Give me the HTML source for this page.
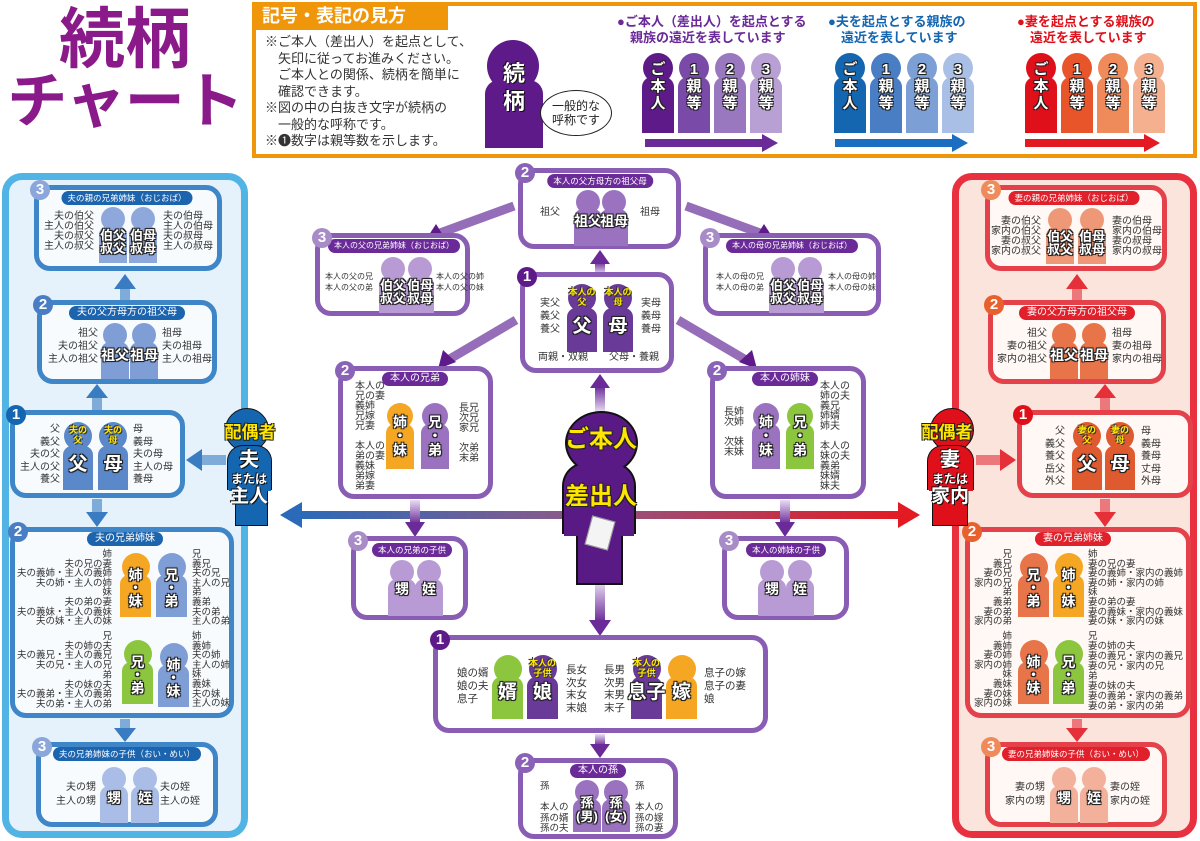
<!DOCTYPE html>
<html><head><meta charset="utf-8">
<style>
*{margin:0;padding:0;box-sizing:border-box}
body{width:1200px;height:841px;position:relative;background:#fff;font-family:"Liberation Sans","Noto Sans CJK JP",sans-serif;overflow:hidden}
div{position:absolute}
.bx{border:5px solid;border-radius:16px;background:#fff}
.pu{border-color:#8a5db5}
.bl{border-color:#3f86c8;background:#f8fbfe}
.rd{border-color:#e5414b;background:#fff8f5}
.tag{height:14px;line-height:14px;border-radius:7px;color:#fff;font-size:10px;padding:0 8px;transform:translateX(-50%);white-space:nowrap}
.sm{font-size:8.5px;padding:0 6px}
.tp{background:#6a2a98}.tb{background:#1d64ae}.tr{background:#e0202a}
.n{width:20px;height:20px;border-radius:50%;color:#fff;font:bold 15px/20px "Liberation Sans",sans-serif;text-align:center}
.np1{background:#5e1a88}.np2{background:#8a62b8}.np3{background:#a88cc8}
.nb1{background:#1566b0}.nb2{background:#4a7ec4}.nb3{background:#8aa6da}
.nr1{background:#e0101a}.nr2{background:#e8602e}.nr3{background:#ef8a5a}
.t{font-size:10px;line-height:12px;color:#333;white-space:nowrap}
.r{text-align:right}
.f{width:28px;height:56px}
.f i{position:absolute;left:2px;top:0;width:24px;height:24px;border-radius:50%;background:var(--c)}
.f b{position:absolute;left:0;right:0;top:19px;bottom:0;background:var(--c);border-radius:9px 9px 0 0}
.f u{position:absolute;left:-8px;right:-8px;top:22px;text-align:center;color:#fff;font-weight:bold;font-size:14px;line-height:15px;text-decoration:none;text-shadow:1px 1px 0 #222,-1px -1px 0 #222,1px -1px 0 #222,-1px 1px 0 #222,0 0 2px #000}
.f em{position:absolute;left:-6px;right:-6px;top:3px;text-align:center;color:#ffe600;font-style:normal;font-weight:bold;font-size:9px;line-height:10px;text-shadow:1px 1px 0 #333,-1px -1px 0 #333}
.s13 u{font-size:13px;line-height:13px}
.big u{font-size:19px;line-height:20px}
.lf{width:32px;height:80px}
.lf i{position:absolute;left:1px;top:0;width:30px;height:30px;border-radius:50%;background:var(--c)}
.lf b{position:absolute;left:0;right:0;top:24px;bottom:0;background:var(--c);border-radius:10px 10px 0 0}
.lf u{position:absolute;left:0;right:0;top:8px;text-align:center;color:#fff;font-weight:bold;font-size:15px;line-height:17px;text-decoration:none;text-shadow:1px 1px 0 #222,-1px -1px 0 #222,1px -1px 0 #222,-1px 1px 0 #222}
.yl{color:#ffe600;font-weight:bold;text-shadow:1px 1px 0 #222,-1px -1px 0 #222,1px -1px 0 #222,-1px 1px 0 #222;white-space:nowrap;text-align:center}
.wl{color:#fff;font-weight:bold;text-shadow:1px 1px 0 #111,-1px -1px 0 #111;white-space:nowrap;text-align:center}
</style></head><body>

<!-- Title -->
<div style="left:30px;top:2px;width:190px;text-align:center;font-size:66px;line-height:74px;font-weight:bold;color:#8a1a8a">続柄</div>
<div style="left:0;top:68px;width:250px;text-align:center;font-size:60px;line-height:68px;font-weight:bold;color:#8a1a8a;letter-spacing:-1px">チャート</div>

<!-- Legend -->
<div style="left:252px;top:2px;width:945px;height:156px;border:4px solid #f0960a;background:#fff"></div>
<div style="left:252px;top:2px;width:196px;height:28px;background:#f0960a;color:#fff;font-weight:bold;font-size:18px;line-height:28px;padding-left:10px">記号・表記の見方</div>
<div class="t" style="left:265px;top:34px;font-size:13px;line-height:16.5px">※ご本人（差出人）を起点として、<br>　矢印に従ってお進みください。<br>　ご本人との関係、続柄を簡単に<br>　確認できます。<br>※図の中の白抜き文字が続柄の<br>　一般的な呼称です。<br>※❶数字は親等数を示します。</div>
<div style="left:487px;top:40px;width:52px;height:52px;border-radius:50%;background:#5e1a88"></div>
<div style="left:485px;top:80px;width:58px;height:68px;background:#5e1a88;border-radius:14px 14px 0 0"></div>
<div class="wl" style="left:490px;top:60px;width:48px;font-size:22px;line-height:28px">続<br>柄</div>
<div style="left:540px;top:90px;width:72px;height:46px;border:1.5px solid #222;border-radius:50%;background:#fff"></div>
<div class="t" style="left:546px;top:99px;width:60px;text-align:center;font-size:12px;line-height:14px;color:#222">一般的な<br>呼称です</div>

<div class="t" style="left:617px;top:14px;font-size:13px;line-height:16px;color:#6a2a98;font-weight:bold">●ご本人（差出人）を起点とする<br>　親族の遠近を表しています</div>
<div class="t" style="left:828px;top:14px;font-size:13px;line-height:16px;color:#1566b0;font-weight:bold">●夫を起点とする親族の<br>　遠近を表しています</div>
<div class="t" style="left:1017px;top:14px;font-size:13px;line-height:16px;color:#e0101a;font-weight:bold">●妻を起点とする親族の<br>　遠近を表しています</div>

<div class="lf" style="left:642px;top:53px;--c:#5e1a88"><i></i><b></b><u>ご<br>本<br>人</u></div>
<div class="lf" style="left:678px;top:53px;--c:#7a4aa8"><i></i><b></b><u>1<br>親<br>等</u></div>
<div class="lf" style="left:714px;top:53px;--c:#9a78c0"><i></i><b></b><u>2<br>親<br>等</u></div>
<div class="lf" style="left:750px;top:53px;--c:#b9a0d4"><i></i><b></b><u>3<br>親<br>等</u></div>
<div class="lf" style="left:834px;top:53px;--c:#1566b0"><i></i><b></b><u>ご<br>本<br>人</u></div>
<div class="lf" style="left:870px;top:53px;--c:#4a7ec4"><i></i><b></b><u>1<br>親<br>等</u></div>
<div class="lf" style="left:906px;top:53px;--c:#7c9fd6"><i></i><b></b><u>2<br>親<br>等</u></div>
<div class="lf" style="left:942px;top:53px;--c:#a9bfe6"><i></i><b></b><u>3<br>親<br>等</u></div>
<div class="lf" style="left:1025px;top:53px;--c:#e0101a"><i></i><b></b><u>ご<br>本<br>人</u></div>
<div class="lf" style="left:1061px;top:53px;--c:#e8552a"><i></i><b></b><u>1<br>親<br>等</u></div>
<div class="lf" style="left:1097px;top:53px;--c:#ef8a5a"><i></i><b></b><u>2<br>親<br>等</u></div>
<div class="lf" style="left:1133px;top:53px;--c:#f4b08f"><i></i><b></b><u>3<br>親<br>等</u></div>

<!-- Panels -->
<div style="left:2px;top:173px;width:246px;height:665px;border:7px solid #52b4e4;border-radius:20px;background:#e6f2fb"></div>
<div style="left:952px;top:173px;width:245px;height:665px;border:7px solid #e8303f;border-radius:20px;background:#fbe4dc"></div>

<!-- Arrows / lines -->
<svg style="position:absolute;left:0;top:0" width="1200" height="841">
<defs>
<linearGradient id="hg" x1="0" x2="1" y1="0" y2="0"><stop offset="0" stop-color="#2a6ab8"/><stop offset="0.45" stop-color="#8a5a8a"/><stop offset="1" stop-color="#e41a22"/></linearGradient>
<linearGradient id="pv" x1="0" x2="0" y1="0" y2="1"><stop offset="0" stop-color="#e8dcf2"/><stop offset="1" stop-color="#6a2a98"/></linearGradient>
<linearGradient id="pvu" x1="0" x2="0" y1="1" y2="0"><stop offset="0" stop-color="#e8dcf2"/><stop offset="1" stop-color="#6a2a98"/></linearGradient>
</defs>
<rect x="296" y="511" width="610" height="8" fill="url(#hg)"/>
<polygon points="280,515 302,502 302,528" fill="#2a6ab8"/>
<polygon points="920,515 898,502 898,528" fill="#e41a22"/>
<g fill="#6a2a98" stroke="none">
<rect x="595" y="386" width="10" height="26" fill="url(#pvu)"/><polygon points="600,374 590,388 610,388"/>
<rect x="595" y="262" width="10" height="12" fill="url(#pvu)"/><polygon points="600,250 590,264 610,264"/>
<rect x="595" y="582" width="10" height="40" fill="url(#pv)"/><polygon points="600,636 589,620 611,620"/>
<rect x="595" y="734" width="10" height="12" fill="url(#pv)"/><polygon points="600,758 590,744 610,744"/>
<rect x="410" y="500" width="10" height="24" fill="url(#pv)"/><polygon points="415,537 405,522 425,522"/>
<rect x="780" y="500" width="10" height="24" fill="url(#pv)"/><polygon points="785,537 775,522 795,522"/>
</g>
<g stroke="#7a48a8" stroke-width="9" stroke-linecap="butt">
<line x1="514" y1="206" x2="440" y2="233" stroke-opacity=".8"/>
<line x1="686" y1="206" x2="760" y2="233" stroke-opacity=".8"/>
<line x1="516" y1="320" x2="448" y2="360" stroke-opacity=".8"/>
<line x1="678" y1="320" x2="746" y2="360" stroke-opacity=".8"/>
</g>
<g fill="#5e1a88">
<polygon points="425,241 436,224 446,240"/>
<polygon points="775,241 764,224 754,240"/>
<polygon points="438,369 443,350 456,362"/>
<polygon points="757,369 752,350 739,362"/>
</g>
<g fill="#3a7cc2">
<rect x="200" y="455" width="26" height="10" fill-opacity=".6"/><polygon points="186,460 202,449 202,471"/>
<rect x="92" y="396" width="10" height="14" fill-opacity=".6"/><polygon points="97,384 86,398 108,398"/>
<rect x="120" y="288" width="10" height="12" fill-opacity=".6"/><polygon points="125,274 114,289 136,289"/>
<rect x="92" y="499" width="10" height="14" fill-opacity=".6"/><polygon points="97,527 86,512 108,512"/>
<rect x="120" y="719" width="10" height="10" fill-opacity=".6"/><polygon points="125,742 114,728 136,728"/>
</g>
<g fill="#e5303a">
<rect x="976" y="455" width="26" height="10" fill-opacity=".6"/><polygon points="1016,460 1000,449 1000,471"/>
<rect x="1100" y="396" width="10" height="14" fill-opacity=".6"/><polygon points="1105,384 1094,398 1116,398"/>
<rect x="1072" y="288" width="10" height="12" fill-opacity=".6"/><polygon points="1077,274 1066,289 1088,289"/>
<rect x="1100" y="499" width="10" height="14" fill-opacity=".6"/><polygon points="1105,527 1094,512 1116,512"/>
<rect x="1072" y="719" width="10" height="10" fill-opacity=".6"/><polygon points="1077,742 1066,728 1088,728"/>
</g>
<rect x="645" y="139" width="118" height="8" fill="#6a2a98"/><polygon points="778,143 762,134 762,152" fill="#6a2a98"/>
<rect x="835" y="139" width="118" height="8" fill="#1c6fc0"/><polygon points="968,143 952,134 952,152" fill="#1c6fc0"/>
<rect x="1025" y="139" width="120" height="8" fill="#e41a22"/><polygon points="1160,143 1144,134 1144,152" fill="#e41a22"/>
</svg>

<!-- ===== LEFT (husband) ===== -->
<div class="bx bl" style="left:34px;top:185px;width:188px;height:86px"></div>
<div class="tag tb sm" style="left:127px;top:191px">夫の親の兄弟姉妹（おじおば）</div>
<div class="n nb3" style="left:30px;top:180px">3</div>
<div class="t r" style="left:30px;width:64px;top:212px;line-height:10px">夫の伯父<br>主人の伯父<br>夫の叔父<br>主人の叔父</div>
<div class="f s13" style="left:99px;top:207px;--c:#8fa8dc"><i></i><b></b><u>伯父<br>叔父</u></div>
<div class="f s13" style="left:129px;top:207px;--c:#8fa8dc"><i></i><b></b><u>伯母<br>叔母</u></div>
<div class="t" style="left:163px;top:212px;line-height:10px">夫の伯母<br>主人の伯母<br>夫の叔母<br>主人の叔母</div>

<div class="bx bl" style="left:37px;top:300px;width:180px;height:84px"></div>
<div class="tag tb" style="left:127px;top:306px">夫の父方母方の祖父母</div>
<div class="n nb2" style="left:33px;top:295px">2</div>
<div class="t r" style="left:30px;width:68px;top:327px;line-height:13px">祖父<br>夫の祖父<br>主人の祖父</div>
<div class="f" style="left:101px;top:323px;--c:#7f9ed6"><i></i><b></b><u style="top:25px">祖父</u></div>
<div class="f" style="left:130px;top:323px;--c:#7f9ed6"><i></i><b></b><u style="top:25px">祖母</u></div>
<div class="t" style="left:162px;top:327px;line-height:13px">祖母<br>夫の祖母<br>主人の祖母</div>

<div class="bx bl" style="left:10px;top:410px;width:175px;height:88px"></div>
<div class="n nb1" style="left:6px;top:405px">1</div>
<div class="t r" style="left:10px;width:50px;top:424px;line-height:12.5px">父<br>義父<br>夫の父<br>主人の父<br>養父</div>
<div class="f big" style="left:63px;top:422px;width:30px;height:68px;--c:#5a88c8"><i style="width:28px;height:28px;left:1px"></i><b style="top:24px"></b><em>夫の<br>父</em><u style="top:33px">父</u></div>
<div class="f big" style="left:98px;top:422px;width:30px;height:68px;--c:#5a88c8"><i style="width:28px;height:28px;left:1px"></i><b style="top:24px"></b><em>夫の<br>母</em><u style="top:33px">母</u></div>
<div class="t" style="left:133px;top:424px;line-height:12.5px">母<br>義母<br>夫の母<br>主人の母<br>養母</div>

<div class="bx bl" style="left:10px;top:527px;width:224px;height:191px"></div>
<div class="tag tb" style="left:125px;top:532px">夫の兄弟姉妹</div>
<div class="n nb2" style="left:8px;top:522px">2</div>
<div class="t r" style="left:12px;width:100px;top:550px;font-size:9.5px;line-height:9.6px">姉<br>夫の兄の妻<br>夫の義姉・主人の義姉<br>夫の姉・主人の姉<br>妹<br>夫の弟の妻<br>夫の義妹・主人の義妹<br>夫の妹・主人の妹</div>
<div class="f" style="left:120px;top:553px;width:31px;height:64px;--c:#f5a623"><i style="width:28px;height:28px;left:1.5px"></i><b style="top:22px"></b><u style="top:16px;line-height:13px">姉<br>・<br>妹</u></div>
<div class="f" style="left:156px;top:553px;width:31px;height:64px;--c:#7f9ed6"><i style="width:28px;height:28px;left:1.5px"></i><b style="top:22px"></b><u style="top:16px;line-height:13px">兄<br>・<br>弟</u></div>
<div class="t" style="left:192px;top:550px;font-size:9.5px;line-height:9.6px">兄<br>義兄<br>夫の兄<br>主人の兄<br>弟<br>義弟<br>夫の弟<br>主人の弟</div>
<div class="t r" style="left:12px;width:100px;top:632px;font-size:9.5px;line-height:9.7px">兄<br>夫の姉の夫<br>夫の義兄・主人の義兄<br>夫の兄・主人の兄<br>弟<br>夫の妹の夫<br>夫の義弟・主人の義弟<br>夫の弟・主人の弟</div>
<div class="f" style="left:122px;top:640px;width:31px;height:64px;--c:#8cc63f"><i style="width:28px;height:28px;left:1.5px"></i><b style="top:22px"></b><u style="top:16px;line-height:13px">兄<br>・<br>弟</u></div>
<div class="f" style="left:158px;top:643px;width:31px;height:64px;--c:#7f9ed6"><i style="width:28px;height:28px;left:1.5px"></i><b style="top:22px"></b><u style="top:16px;line-height:13px">姉<br>・<br>妹</u></div>
<div class="t" style="left:192px;top:632px;font-size:9.5px;line-height:9.6px">姉<br>義姉<br>夫の姉<br>主人の姉<br>妹<br>義妹<br>夫の妹<br>主人の妹</div>

<div class="bx bl" style="left:36px;top:742px;width:182px;height:85px"></div>
<div class="tag tb sm" style="left:127px;top:747px">夫の兄弟姉妹の子供（おい・めい）</div>
<div class="n nb3" style="left:32px;top:737px">3</div>
<div class="t r" style="left:30px;width:66px;top:781px;line-height:14px">夫の甥<br>主人の甥</div>
<div class="f" style="left:100px;top:767px;--c:#a9bde6"><i></i><b></b><u style="top:24px">甥</u></div>
<div class="f" style="left:131px;top:767px;--c:#a9bde6"><i></i><b></b><u style="top:24px">姪</u></div>
<div class="t" style="left:160px;top:781px;line-height:14px">夫の姪<br>主人の姪</div>

<!-- husband figure -->
<div style="left:225px;top:408px;width:44px;height:44px;border-radius:50%;background:#1566b0;border:1.5px solid #111"></div>
<div style="left:227px;top:445px;width:45px;height:45px;background:#1566b0;border:1.5px solid #111;border-bottom:none;border-radius:16px 16px 0 0"></div>
<div style="left:235px;top:488px;width:33px;height:38px;background:#1566b0;border:1.5px solid #111;border-top:none"></div>
<div style="left:228.5px;top:446.5px;width:42px;height:44px;background:#1566b0;border-radius:14px 14px 0 0"></div>
<div class="yl" style="left:218px;top:423px;width:64px;font-size:17px;line-height:20px">配偶者</div>
<div class="wl" style="left:225px;top:449px;width:48px;font-size:20px;line-height:22px">夫</div>
<div class="wl" style="left:222px;top:472px;width:54px;font-size:12px;line-height:14px">または</div>
<div class="wl" style="left:225px;top:486px;width:48px;font-size:19px;line-height:22px">主人</div>

<!-- ===== RIGHT (wife) ===== -->
<div class="bx rd" style="left:985px;top:185px;width:182px;height:86px"></div>
<div class="tag tr sm" style="left:1074px;top:191px">妻の親の兄弟姉妹（おじおば）</div>
<div class="n nr3" style="left:981px;top:180px">3</div>
<div class="t r" style="left:980px;width:61px;top:217px;line-height:10px">妻の伯父<br>家内の伯父<br>妻の叔父<br>家内の叔父</div>
<div class="f s13" style="left:1046px;top:208px;--c:#ee9878"><i></i><b></b><u>伯父<br>叔父</u></div>
<div class="f s13" style="left:1078px;top:208px;--c:#ee9878"><i></i><b></b><u>伯母<br>叔母</u></div>
<div class="t" style="left:1112px;top:217px;line-height:10px">妻の伯母<br>家内の伯母<br>妻の叔母<br>家内の叔母</div>

<div class="bx rd" style="left:988px;top:300px;width:178px;height:84px"></div>
<div class="tag tr" style="left:1077px;top:306px">妻の父方母方の祖父母</div>
<div class="n nr2" style="left:984px;top:295px">2</div>
<div class="t r" style="left:980px;width:67px;top:327px;line-height:13px">祖父<br>妻の祖父<br>家内の祖父</div>
<div class="f" style="left:1050px;top:323px;--c:#e8744a"><i></i><b></b><u style="top:25px">祖父</u></div>
<div class="f" style="left:1080px;top:323px;--c:#e8744a"><i></i><b></b><u style="top:25px">祖母</u></div>
<div class="t" style="left:1112px;top:327px;line-height:13px">祖母<br>妻の祖母<br>家内の祖母</div>

<div class="bx rd" style="left:1017px;top:410px;width:176px;height:88px"></div>
<div class="n nr1" style="left:1013px;top:405px">1</div>
<div class="t r" style="left:1020px;width:45px;top:426px;line-height:12.5px">父<br>義父<br>養父<br>岳父<br>外父</div>
<div class="f big" style="left:1072px;top:422px;width:30px;height:68px;--c:#e05a30"><i style="width:28px;height:28px;left:1px"></i><b style="top:24px"></b><em>妻の<br>父</em><u style="top:33px">父</u></div>
<div class="f big" style="left:1105px;top:422px;width:30px;height:68px;--c:#e05a30"><i style="width:28px;height:28px;left:1px"></i><b style="top:24px"></b><em>妻の<br>母</em><u style="top:33px">母</u></div>
<div class="t" style="left:1141px;top:426px;line-height:12.5px">母<br>義母<br>養母<br>丈母<br>外母</div>

<div class="bx rd" style="left:965px;top:527px;width:226px;height:191px"></div>
<div class="tag tr" style="left:1073px;top:532px">妻の兄弟姉妹</div>
<div class="n nr2" style="left:962px;top:522px">2</div>
<div class="t r" style="left:960px;width:52px;top:550px;font-size:9.5px;line-height:9.6px">兄<br>義兄<br>妻の兄<br>家内の兄<br>弟<br>義弟<br>妻の弟<br>家内の弟</div>
<div class="f" style="left:1018px;top:553px;width:31px;height:64px;--c:#e8744a"><i style="width:28px;height:28px;left:1.5px"></i><b style="top:22px"></b><u style="top:16px;line-height:13px">兄<br>・<br>弟</u></div>
<div class="f" style="left:1053px;top:553px;width:31px;height:64px;--c:#f5a623"><i style="width:28px;height:28px;left:1.5px"></i><b style="top:22px"></b><u style="top:16px;line-height:13px">姉<br>・<br>妹</u></div>
<div class="t" style="left:1088px;top:550px;font-size:9.5px;line-height:9.6px">姉<br>妻の兄の妻<br>妻の義姉・家内の義姉<br>妻の姉・家内の姉<br>妹<br>妻の弟の妻<br>妻の義妹・家内の義妹<br>妻の妹・家内の妹</div>
<div class="t r" style="left:960px;width:52px;top:632px;font-size:9.5px;line-height:9.6px">姉<br>義姉<br>妻の姉<br>家内の姉<br>妹<br>義妹<br>妻の妹<br>家内の妹</div>
<div class="f" style="left:1018px;top:640px;width:31px;height:64px;--c:#e8744a"><i style="width:28px;height:28px;left:1.5px"></i><b style="top:22px"></b><u style="top:16px;line-height:13px">姉<br>・<br>妹</u></div>
<div class="f" style="left:1053px;top:640px;width:31px;height:64px;--c:#8cc63f"><i style="width:28px;height:28px;left:1.5px"></i><b style="top:22px"></b><u style="top:16px;line-height:13px">兄<br>・<br>弟</u></div>
<div class="t" style="left:1088px;top:632px;font-size:9.5px;line-height:10px">兄<br>妻の姉の夫<br>妻の義兄・家内の義兄<br>妻の兄・家内の兄<br>弟<br>妻の妹の夫<br>妻の義弟・家内の義弟<br>妻の弟・家内の弟</div>

<div class="bx rd" style="left:985px;top:742px;width:182px;height:85px"></div>
<div class="tag tr sm" style="left:1076px;top:747px">妻の兄弟姉妹の子供（おい・めい）</div>
<div class="n nr3" style="left:981px;top:737px">3</div>
<div class="t r" style="left:980px;width:65px;top:781px;line-height:14px">妻の甥<br>家内の甥</div>
<div class="f" style="left:1050px;top:767px;--c:#f3b09a"><i></i><b></b><u style="top:24px">甥</u></div>
<div class="f" style="left:1080px;top:767px;--c:#f3b09a"><i></i><b></b><u style="top:24px">姪</u></div>
<div class="t" style="left:1110px;top:781px;line-height:14px">妻の姪<br>家内の姪</div>

<!-- wife figure -->
<div style="left:930px;top:408px;width:44px;height:44px;border-radius:50%;background:#e0101a;border:1.5px solid #111"></div>
<div style="left:927px;top:445px;width:47px;height:45px;background:#e0101a;border:1.5px solid #111;border-bottom:none;border-radius:16px 16px 0 0"></div>
<div style="left:932px;top:488px;width:36px;height:38px;background:#e0101a;border:1.5px solid #111;border-top:none"></div>
<div style="left:928.5px;top:446.5px;width:44px;height:44px;background:#e0101a;border-radius:14px 14px 0 0"></div>
<div class="yl" style="left:914px;top:423px;width:66px;font-size:17px;line-height:20px">配偶者</div>
<div class="wl" style="left:926px;top:449px;width:48px;font-size:20px;line-height:22px">妻</div>
<div class="wl" style="left:923px;top:472px;width:54px;font-size:12px;line-height:14px">または</div>
<div class="wl" style="left:926px;top:486px;width:48px;font-size:19px;line-height:22px">家内</div>

<!-- ===== CENTER ===== -->
<div class="bx pu" style="left:518px;top:168px;width:163px;height:81px"></div>
<div class="tag tp sm" style="left:600px;top:174px">本人の父方母方の祖父母</div>
<div class="n np2" style="left:515px;top:163px">2</div>
<div class="t" style="left:540px;top:207px;font-size:10px">祖父</div>
<div class="f" style="left:574px;top:190px;--c:#9a72c0"><i></i><b></b><u style="top:24px">祖父</u></div>
<div class="f" style="left:600px;top:190px;--c:#9a72c0"><i></i><b></b><u style="top:24px">祖母</u></div>
<div class="t" style="left:640px;top:207px">祖母</div>

<div class="bx pu" style="left:315px;top:233px;width:155px;height:83px"></div>
<div class="tag tp sm" style="left:394px;top:239px;font-size:8px">本人の父の兄弟姉妹（おじおば）</div>
<div class="n np3" style="left:312px;top:228px">3</div>
<div class="t" style="left:325px;top:271px;font-size:8px;line-height:11px">本人の父の兄<br>本人の父の弟</div>
<div class="f s13" style="left:379px;top:257px;--c:#b89ad4"><i></i><b></b><u>伯父<br>叔父</u></div>
<div class="f s13" style="left:406px;top:257px;--c:#b89ad4"><i></i><b></b><u>伯母<br>叔母</u></div>
<div class="t" style="left:436px;top:271px;font-size:8px;line-height:11px">本人の父の姉<br>本人の父の妹</div>

<div class="bx pu" style="left:703px;top:233px;width:178px;height:83px"></div>
<div class="tag tp sm" style="left:792px;top:239px;font-size:8px">本人の母の兄弟姉妹（おじおば）</div>
<div class="n np3" style="left:700px;top:228px">3</div>
<div class="t" style="left:716px;top:271px;font-size:8px;line-height:11px">本人の母の兄<br>本人の母の弟</div>
<div class="f s13" style="left:769px;top:257px;--c:#b89ad4"><i></i><b></b><u>伯父<br>叔父</u></div>
<div class="f s13" style="left:796px;top:257px;--c:#b89ad4"><i></i><b></b><u>伯母<br>叔母</u></div>
<div class="t" style="left:828px;top:271px;font-size:8px;line-height:11px">本人の母の姉<br>本人の母の妹</div>

<div class="bx pu" style="left:520px;top:272px;width:154px;height:101px"></div>
<div class="n np1" style="left:517px;top:267px">1</div>
<div class="t" style="left:540px;top:297px;line-height:13px">実父<br>義父<br>養父</div>
<div class="f big" style="left:567px;top:284px;width:30px;height:68px;--c:#6a3a98"><i style="width:28px;height:28px;left:1px"></i><b style="top:24px"></b><em>本人の<br>父</em><u style="top:33px">父</u></div>
<div class="f big" style="left:603px;top:284px;width:30px;height:68px;--c:#6a3a98"><i style="width:28px;height:28px;left:1px"></i><b style="top:24px"></b><em>本人の<br>母</em><u style="top:33px">母</u></div>
<div class="t" style="left:641px;top:297px;line-height:13px">実母<br>義母<br>養母</div>
<div class="t" style="left:538px;top:352px">両親・双親</div>
<div class="t" style="left:609px;top:352px">父母・養親</div>

<div class="bx pu" style="left:338px;top:366px;width:155px;height:133px"></div>
<div class="tag tp" style="left:415px;top:372px">本人の兄弟</div>
<div class="n np2" style="left:335px;top:361px">2</div>
<div class="t" style="left:355px;top:382px;line-height:10px">本人の<br>兄の妻<br>義姉<br>兄嫁<br>兄妻<br><br>本人の<br>弟の妻<br>義妹<br>弟嫁<br>弟妻</div>
<div class="f" style="left:386px;top:403px;width:28px;height:66px;--c:#f5a623"><i style="width:26px;height:26px;left:1px"></i><b style="top:21px"></b><u style="top:12px;line-height:14px">姉<br>・<br>妹</u></div>
<div class="f" style="left:421px;top:403px;width:28px;height:66px;--c:#9a72c0"><i style="width:26px;height:26px;left:1px"></i><b style="top:21px"></b><u style="top:12px;line-height:14px">兄<br>・<br>弟</u></div>
<div class="t" style="left:459px;top:404px;line-height:10px">長兄<br>次兄<br>家兄<br><br>次弟<br>末弟</div>

<div class="bx pu" style="left:710px;top:366px;width:156px;height:133px"></div>
<div class="tag tp" style="left:785px;top:372px">本人の姉妹</div>
<div class="n np2" style="left:707px;top:361px">2</div>
<div class="t" style="left:724px;top:408px;line-height:10px">長姉<br>次姉<br><br>次妹<br>末妹</div>
<div class="f" style="left:752px;top:403px;width:28px;height:66px;--c:#9a72c0"><i style="width:26px;height:26px;left:1px"></i><b style="top:21px"></b><u style="top:12px;line-height:14px">姉<br>・<br>妹</u></div>
<div class="f" style="left:786px;top:403px;width:28px;height:66px;--c:#8cc63f"><i style="width:26px;height:26px;left:1px"></i><b style="top:21px"></b><u style="top:12px;line-height:14px">兄<br>・<br>弟</u></div>
<div class="t" style="left:820px;top:382px;line-height:10px">本人の<br>姉の夫<br>義兄<br>姉婿<br>姉夫<br><br>本人の<br>妹の夫<br>義弟<br>妹婿<br>妹夫</div>

<div class="bx pu" style="left:351px;top:536px;width:117px;height:84px"></div>
<div class="tag tp sm" style="left:412px;top:543px">本人の兄弟の子供</div>
<div class="n np3" style="left:348px;top:531px">3</div>
<div class="f" style="left:388px;top:560px;--c:#b89ad4"><i></i><b></b><u style="top:22px">甥</u></div>
<div class="f" style="left:415px;top:560px;--c:#b89ad4"><i></i><b></b><u style="top:22px">姪</u></div>

<div class="bx pu" style="left:722px;top:536px;width:127px;height:84px"></div>
<div class="tag tp sm" style="left:786px;top:543px">本人の姉妹の子供</div>
<div class="n np3" style="left:719px;top:531px">3</div>
<div class="f" style="left:758px;top:560px;--c:#b89ad4"><i></i><b></b><u style="top:22px">甥</u></div>
<div class="f" style="left:786px;top:560px;--c:#b89ad4"><i></i><b></b><u style="top:22px">姪</u></div>

<div class="bx pu" style="left:433px;top:635px;width:335px;height:98px"></div>
<div class="n np1" style="left:430px;top:630px">1</div>
<div class="t" style="left:457px;top:667px;font-size:10.5px;line-height:13px">娘の婿<br>娘の夫<br>息子</div>
<div class="f big" style="left:492px;top:655px;width:31px;height:64px;--c:#8cc63f"><i style="width:28px;height:28px;left:1.5px"></i><b style="top:22px"></b><u style="top:28px">婿</u></div>
<div class="f big" style="left:527px;top:655px;width:31px;height:64px;--c:#6a3a98"><i style="width:28px;height:28px;left:1.5px"></i><b style="top:22px"></b><em>本人の<br>子供</em><u style="top:28px">娘</u></div>
<div class="t" style="left:566px;top:664px;font-size:10.5px;line-height:12.5px">長女<br>次女<br>末女<br>末娘</div>
<div class="t" style="left:604px;top:664px;font-size:10.5px;line-height:12.5px">長男<br>次男<br>末男<br>末子</div>
<div class="f big" style="left:631px;top:655px;width:31px;height:64px;--c:#6a3a98"><i style="width:28px;height:28px;left:1.5px"></i><b style="top:22px"></b><em>本人の<br>子供</em><u style="top:28px">息子</u></div>
<div class="f big" style="left:666px;top:655px;width:31px;height:64px;--c:#f5a623"><i style="width:28px;height:28px;left:1.5px"></i><b style="top:22px"></b><u style="top:28px">嫁</u></div>
<div class="t" style="left:704px;top:667px;font-size:10.5px;line-height:13px">息子の嫁<br>息子の妻<br>娘</div>

<div class="bx pu" style="left:518px;top:758px;width:160px;height:81px"></div>
<div class="tag tp" style="left:598px;top:764px">本人の孫</div>
<div class="n np2" style="left:515px;top:753px">2</div>
<div class="t" style="left:540px;top:782px;font-size:9.5px;line-height:10.5px">孫<br><br>本人の<br>孫の婿<br>孫の夫</div>
<div class="f" style="left:573px;top:780px;height:52px;--c:#9a72c0"><i></i><b></b><u style="top:16px;font-size:13px;line-height:14px">孫<br>(男)</u></div>
<div class="f" style="left:602px;top:780px;height:52px;--c:#9a72c0"><i></i><b></b><u style="top:16px;font-size:13px;line-height:14px">孫<br>(女)</u></div>
<div class="t" style="left:635px;top:782px;font-size:9.5px;line-height:10.5px">孫<br><br>本人の<br>孫の嫁<br>孫の妻</div>

<!-- self figure -->
<div style="left:576px;top:530px;width:47px;height:55px;background:#5a1a85;border:2px solid #111;border-top:none"></div>
<div style="left:562px;top:462px;width:74px;height:72px;background:#5a1a85;border:2px solid #111;border-bottom:none;border-radius:24px 24px 0 0"></div>
<div style="left:565px;top:411px;width:73px;height:64px;border-radius:50%;background:#5a1a85;border:2px solid #111"></div>
<div style="left:564px;top:464px;width:70px;height:72px;background:#5a1a85;border-radius:22px 22px 0 0"></div>
<div style="left:578px;top:530px;width:43px;height:8px;background:#5a1a85"></div>
<div style="left:588px;top:518px;width:24px;height:30px;background:#f4f4f4;border:1px solid #999;transform:rotate(15deg)"></div>
<div class="yl" style="left:556px;top:426px;width:90px;font-size:24px;line-height:28px">ご本人</div>
<div class="yl" style="left:556px;top:483px;width:90px;font-size:24px;line-height:28px">差出人</div>

</body></html>
